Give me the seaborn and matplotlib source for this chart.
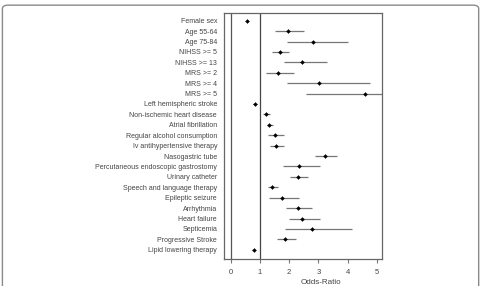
import matplotlib
matplotlib.use('Agg')
import matplotlib.pyplot as plt
import seaborn as sns
import pandas as pd
from matplotlib.patches import FancyBboxPatch

# Odds ratios with 95% CI
factors = [
    'Female sex', 'Age 55-64', 'Age 75-84', 'NIHSS >= 5', 'NIHSS >= 13',
    'MRS >= 2', 'MRS >= 4', 'MRS >= 5', 'Left hemispheric stroke',
    'Non-ischemic heart disease', 'Atrial fibrillation',
    'Regular alcohol consumption', 'Iv antihypertensive therapy',
    'Nasogastric tube', 'Percutaneous endoscopic gastrostomy',
    'Urinary catheter', 'Speech and language therapy', 'Epileptic seizure',
    'Arrhythmia', 'Heart failure', 'Septicemia', 'Progressive Stroke',
    'Lipid lowering therapy',
]
odds = [0.55, 1.96, 2.80, 1.69, 2.45, 1.61, 3.01, 4.61, 0.84, 1.21, 1.32,
        1.53, 1.56, 3.24, 2.34, 2.30, 1.43, 1.75, 2.29, 2.45, 2.79, 1.87, 0.78]
ci_low = [0.51, 1.52, 1.94, 1.43, 1.83, 1.21, 1.91, 2.59, 0.77, 1.10, 1.23,
          1.29, 1.34, 2.90, 1.79, 2.02, 1.28, 1.31, 1.89, 2.00, 1.86, 1.58, 0.72]
ci_high = [0.59, 2.52, 4.03, 2.00, 3.29, 2.16, 4.76, 6.50, 0.91, 1.34, 1.45,
           1.83, 1.84, 3.64, 3.06, 2.64, 1.61, 2.34, 2.77, 3.05, 4.15, 2.23, 0.84]

df = pd.DataFrame({'factor': factors, 'OR': odds, 'lo': ci_low, 'hi': ci_high})

sns.set_style('white')
plt.rcParams['font.family'] = ['Liberation Sans', 'DejaVu Sans']

fig = plt.figure(figsize=(4.84, 2.86), dpi=100)
ax = fig.add_axes([0.4628, 0.0944, 0.3272, 0.8601])

# card frame around the figure
fig.patches.append(FancyBboxPatch((0.005, -0.05), 0.984, 1.032,
                                  boxstyle='round,pad=0,rounding_size=0.012',
                                  transform=fig.transFigure, fill=False,
                                  edgecolor='#8a8a8a', linewidth=1.0))

ax.axvline(0, color='#555555', lw=0.9, zorder=1)
ax.axvline(1, color='#444444', lw=0.9, zorder=1)
ax.hlines(df['factor'], df['lo'], df['hi'], color='#777777', lw=0.9, zorder=2)
sns.scatterplot(data=df, x='OR', y='factor', marker='D', s=4, color='black',
                edgecolor='black', linewidth=0.3, ax=ax, zorder=3)

ax.set_xlim(-0.23, 5.19)
ax.set_ylim(len(factors) - 0.11, -0.74)
ax.set_xticks([0, 1, 2, 3, 4, 5])
ax.tick_params(axis='x', length=3, width=0.8, color='#777777', pad=4,
               labelsize=5.5, labelcolor='#444444', bottom=True)
ax.tick_params(axis='y', length=0, pad=5, labelsize=5.0, labelcolor='#444444')
for s in ax.spines.values():
    s.set_color('#666666')
    s.set_linewidth(0.9)

ax.set_ylabel('')
ax.set_xlabel('Odds-Ratio', fontsize=5.8, color='#444444')
ax.xaxis.set_label_coords(0.613, -0.08)

plt.savefig('out.png', dpi=100)
plt.close()
